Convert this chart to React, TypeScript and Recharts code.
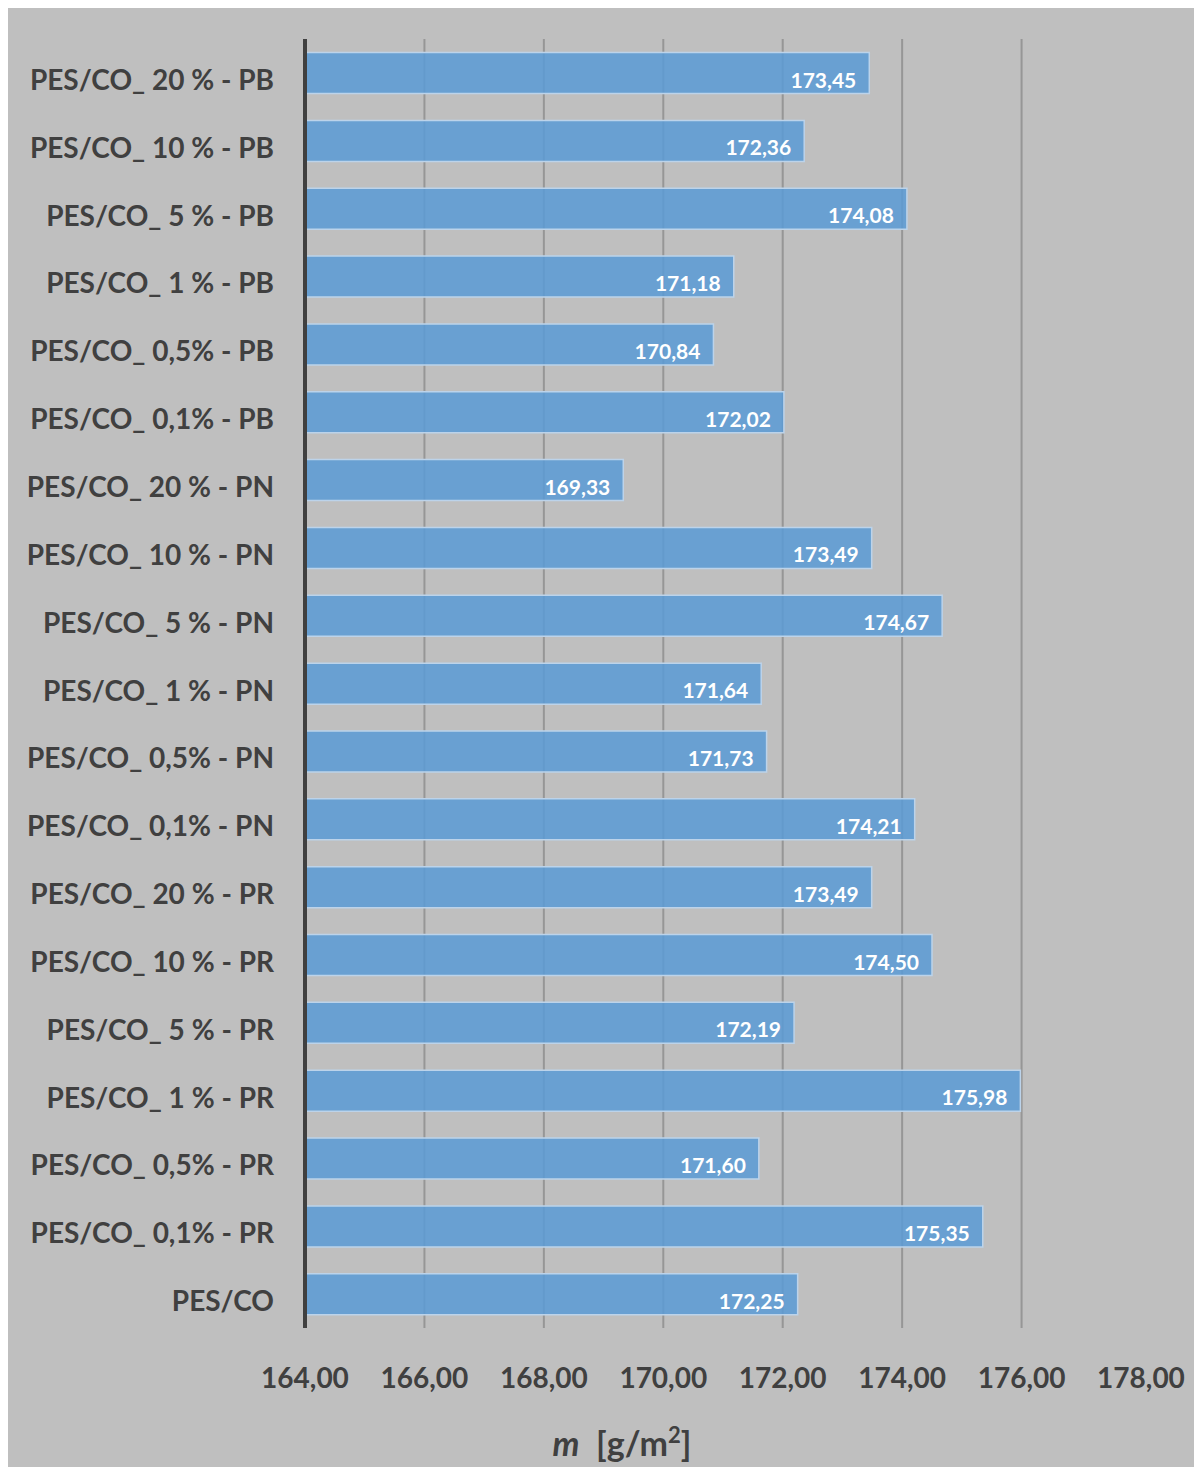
import React from "react";
import { BarChart, Bar, XAxis, YAxis, CartesianGrid, LabelList } from "recharts";

const categories = [
  "PES/CO_ 20 % - PB",
  "PES/CO_ 10 % - PB",
  "PES/CO_ 5 % - PB",
  "PES/CO_ 1 % - PB",
  "PES/CO_ 0,5% - PB",
  "PES/CO_ 0,1% - PB",
  "PES/CO_ 20 % - PN",
  "PES/CO_ 10 % - PN",
  "PES/CO_ 5 % - PN",
  "PES/CO_ 1 % - PN",
  "PES/CO_ 0,5% - PN",
  "PES/CO_ 0,1% - PN",
  "PES/CO_ 20 % - PR",
  "PES/CO_ 10 % - PR",
  "PES/CO_ 5 % - PR",
  "PES/CO_ 1 % - PR",
  "PES/CO_ 0,5% - PR",
  "PES/CO_ 0,1% - PR",
  "PES/CO",
];

const values = [
  173.45, 172.36, 174.08, 171.18, 170.84, 172.02, 169.33, 173.49, 174.67, 171.64,
  171.73, 174.21, 173.49, 174.5, 172.19, 175.98, 171.6, 175.35, 172.25,
];

const xTicks = [164, 166, 168, 170, 172, 174, 176, 178];
const gridValues = [166, 168, 170, 172, 174, 176];

const data = categories.map((name, i) => ({ name, value: values[i] }));

const FONT = "Lato, 'Open Sans', sans-serif";
const TEXT = "#404040";

const fmt = (v: number) => v.toFixed(2).replace(".", ",");

const YTick = (props: any) => {
  const { x, y, payload } = props;
  return (
    <text
      x={x}
      y={y + 6}
      textAnchor="end"
      dominantBaseline="central"
      fill={TEXT}
      fontFamily={FONT}
      fontWeight={700}
      fontSize={28}
    >
      {payload.value}
    </text>
  );
};

const XTick = (props: any) => {
  const { x, y, payload } = props;
  return (
    <text
      x={x}
      y={y + 47}
      textAnchor="middle"
      dominantBaseline="central"
      fill={TEXT}
      fontFamily={FONT}
      fontWeight={700}
      fontSize={28}
    >
      {fmt(payload.value)}
    </text>
  );
};

const ValueLabel = (props: any) => {
  const { x, y, width, height, value } = props;
  return (
    <text
      x={x + width - 13}
      y={y + height / 2 + 6}
      textAnchor="end"
      dominantBaseline="central"
      fill="#ffffff"
      fontFamily={FONT}
      fontWeight={700}
      fontSize={21}
    >
      {fmt(value)}
    </text>
  );
};

export default function App() {
  return (
    <div style={{ position: "relative", width: 1194, height: 1459, background: "#bfbfbf" }}>
      <BarChart
        width={1194}
        height={1459}
        data={data}
        layout="vertical"
        margin={{ top: 31, right: 61, bottom: 0, left: 0 }}
        barCategoryGap="20%"
      >
        <CartesianGrid
          horizontal={false}
          vertical={true}
          verticalValues={gridValues}
          stroke="#969696"
          strokeWidth={2}
        />
        <XAxis
          type="number"
          domain={[164, 178]}
          ticks={xTicks}
          interval={0}
          axisLine={false}
          tickLine={false}
          tickSize={0}
          tick={<XTick />}
          height={139}
          allowDataOverflow
        />
        <YAxis
          type="category"
          dataKey="name"
          width={297}
          axisLine={{ stroke: "#404040", strokeWidth: 4 }}
          tickLine={false}
          tickSize={0}
          tickMargin={31}
          interval={0}
          tick={<YTick />}
        />
        <Bar
          dataKey="value"
          fill="#5b9bd5"
          fillOpacity={0.86}
          stroke="#bcd3ea"
          strokeWidth={1.5}
          isAnimationActive={false}
        >
          <LabelList dataKey="value" content={<ValueLabel />} />
        </Bar>
      </BarChart>
      <div
        style={{
          position: "absolute",
          left: 0,
          width: 1228,
          top: 1415,
          textAlign: "center",
          fontFamily: FONT,
          fontWeight: 700,
          fontSize: 34,
          color: TEXT,
          lineHeight: "40px",
        }}
      >
        <span style={{ fontStyle: "italic" }}>m</span>
        <span>&nbsp; [g/m</span>
        <sup style={{ fontSize: 22, lineHeight: 0, verticalAlign: "0.6em" }}>2</sup>
        <span>]</span>
      </div>
    </div>
  );
}
